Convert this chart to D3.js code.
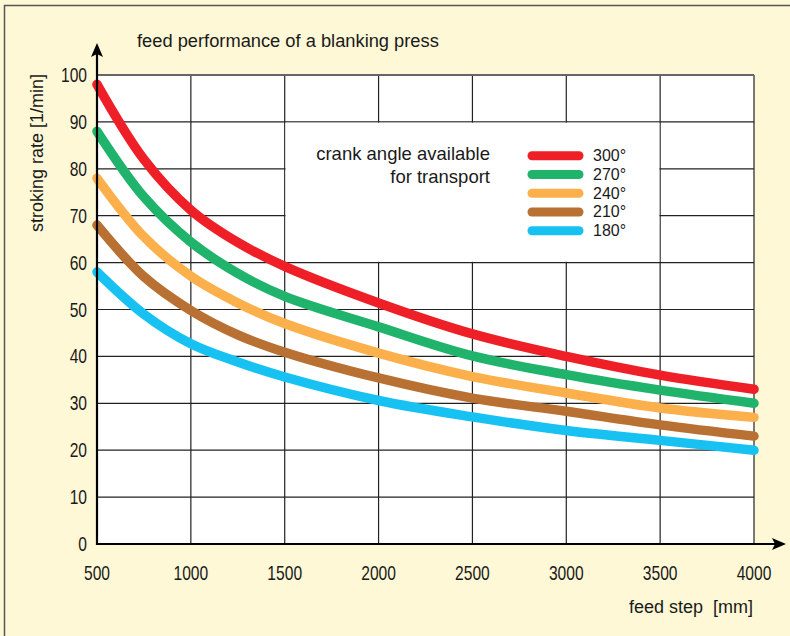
<!DOCTYPE html>
<html><head><meta charset="utf-8">
<script src="https://cdn.jsdelivr.net/npm/d3@7"></script>
<style>
html,body{margin:0;padding:0;background:#fef8d6;}
text{font-family:"Liberation Sans",Arial,sans-serif;fill:#1a1a1a;}
</style></head>
<body>
<svg id="c" width="790" height="636"></svg>
<script>
const feedSteps = [500, 750, 1000, 1250, 1500, 2000, 2500, 3000, 3500, 4000];
const series = ["300°", "270°", "240°", "210°", "180°"];
const colors = ["#ee1f26", "#20b36b", "#fbb04c", "#b87132", "#17c2f2"];
const rate300 = [98, 82, 71.2, 64.3, 59.2, 51.4, 44.8, 40, 36, 33];
const rate270 = [88, 74, 64.4, 57.7, 52.8, 46.3, 40.1, 36.1, 32.8, 30];
const rate240 = [78, 65.5, 57.1, 51.4, 47, 40.7, 35.7, 32.2, 29, 27];
const rate210 = [68, 57, 49.8, 44.6, 40.9, 35.4, 31.1, 28.3, 25.4, 23];
const rate180 = [58, 49, 42.7, 38.8, 35.6, 30.6, 27.1, 24.2, 22.1, 20];
const xTicks = [500, 1000, 1500, 2000, 2500, 3000, 3500, 4000];
const yTicks = [0, 10, 20, 30, 40, 50, 60, 70, 80, 90, 100];
const allRates = [rate300, rate270, rate240, rate210, rate180];

const svg = d3.select("#c");
const x = d3.scaleLinear().domain([500, 4000]).range([97, 754]);
const y = d3.scaleLinear().domain([0, 100]).range([544, 75]);

svg.append("rect").attr("width", 790).attr("height", 636).attr("fill", "#fef8d6");
svg.append("rect").attr("x", 4.5).attr("y", 5.5).attr("width", 900).attr("height", 800)
  .attr("fill", "none").attr("stroke", "#555").attr("stroke-width", 1.5);

// plot area
svg.append("rect").attr("x", x(500)).attr("y", y(100)).attr("width", x(4000) - x(500))
  .attr("height", y(0) - y(100)).attr("fill", "#fff");

const grid = svg.append("g").attr("stroke", "#222").attr("stroke-width", 1.2);
grid.selectAll(".v").data(xTicks.slice(1)).join("line")
  .attr("x1", d => x(d)).attr("x2", d => x(d)).attr("y1", y(100)).attr("y2", y(0));
grid.selectAll(".h").data(yTicks.slice(1)).join("line")
  .attr("x1", x(500)).attr("x2", x(4000)).attr("y1", d => y(d)).attr("y2", d => y(d))
  .attr("stroke", d => d === 100 ? "#666" : "#222").attr("stroke-width", d => d === 100 ? 2 : 1.2);

// legend box (covers the grid inside)
svg.append("rect").attr("x", x(1500) + 0.8).attr("y", y(90) + 0.8)
  .attr("width", x(3500) - x(1500) - 1.6).attr("height", y(60) - y(90) - 1.6).attr("fill", "#fff");

// curves
const line = d3.line().x((d, i) => x(feedSteps[i])).y(d => y(d)).curve(d3.curveCatmullRom.alpha(0.5));
svg.append("g").selectAll("path").data(allRates).join("path")
  .attr("d", d => line(d)).attr("fill", "none").attr("stroke", (d, i) => colors[i])
  .attr("stroke-width", 9.5).attr("stroke-linecap", "round").attr("stroke-linejoin", "round");

// axes
const ax = svg.append("g");
ax.append("line").attr("x1", x(500)).attr("x2", x(500)).attr("y1", y(0) + 1).attr("y2", 52)
  .attr("stroke", "#000").attr("stroke-width", 2.2);
ax.append("path").attr("d", `M${x(500)},43 L${x(500) - 6},57 L${x(500)},54 L${x(500) + 6},57 Z`).attr("fill", "#000");
ax.append("line").attr("x1", x(500) - 1).attr("x2", 778).attr("y1", y(0)).attr("y2", y(0))
  .attr("stroke", "#000").attr("stroke-width", 2.2);
ax.append("path").attr("d", `M786,${y(0)} L772,${y(0) - 6} L775,${y(0)} L772,${y(0) + 6} Z`).attr("fill", "#000");

// tick labels (condensed digits)
svg.append("g").selectAll("text").data(yTicks).join("text")
  .attr("transform", d => `translate(87,${y(d) + 7}) scale(0.78,1)`).attr("text-anchor", "end")
  .attr("font-size", 20).text(d => d);
svg.append("g").selectAll("text").data(xTicks).join("text")
  .attr("transform", d => `translate(${x(d)},580) scale(0.78,1)`).attr("text-anchor", "middle")
  .attr("font-size", 20).text(d => d);

// titles
svg.append("text").attr("x", 137).attr("y", 47).attr("font-size", 18.3)
  .text("feed performance of a blanking press");
svg.append("text").attr("transform", "translate(43,153) rotate(-90)").attr("text-anchor", "middle")
  .attr("font-size", 18).text("stroking rate [1/min]");
svg.append("text").attr("x", 753).attr("y", 613).attr("text-anchor", "end").attr("font-size", 18)
  .attr("xml:space", "preserve").style("white-space", "pre").text("feed step  [mm]");

// legend
svg.append("text").attr("x", 490).attr("y", 160).attr("text-anchor", "end").attr("font-size", 18.5)
  .text("crank angle available");
svg.append("text").attr("x", 490).attr("y", 183).attr("text-anchor", "end").attr("font-size", 18.5)
  .text("for transport");
const lg = svg.append("g").selectAll("g").data(series).join("g")
  .attr("transform", (d, i) => `translate(0,${155.7 + i * 18.75})`);
lg.append("line").attr("x1", 532).attr("x2", 579).attr("y1", 0).attr("y2", 0)
  .attr("stroke", (d, i) => colors[i]).attr("stroke-width", 9).attr("stroke-linecap", "round");
lg.append("text").attr("x", 593).attr("y", 5.5).attr("font-size", 16).text(d => d);
</script>
</body></html>
